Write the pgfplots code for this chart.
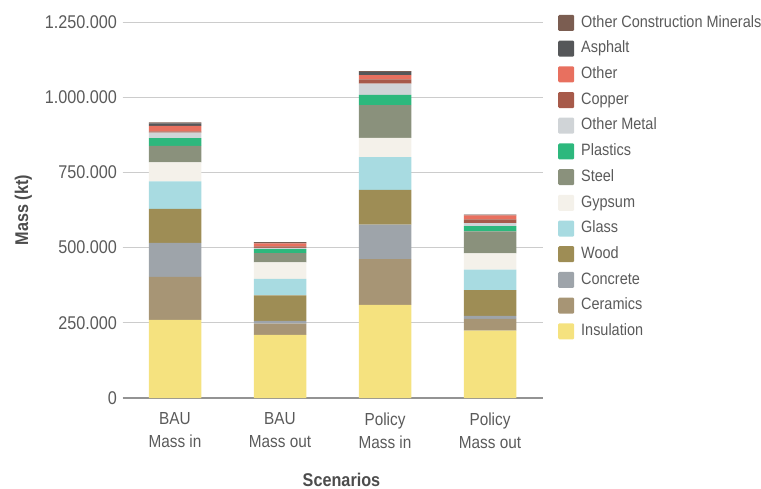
\documentclass[border=0pt]{standalone}
\usepackage{fontspec}
\setmainfont{Liberation Sans}[FakeStretch=0.88]
\usepackage{pgfplots}
\usepackage{pgfplotstable}
\pgfplotsset{compat=1.18}
\definecolor{cIns}{HTML}{F5E27F}
\definecolor{cCer}{HTML}{A79575}
\definecolor{cCon}{HTML}{9EA4AA}
\definecolor{cWood}{HTML}{9E8D55}
\definecolor{cGla}{HTML}{A8DBE1}
\definecolor{cGyp}{HTML}{F4F1EA}
\definecolor{cSte}{HTML}{8A917C}
\definecolor{cPla}{HTML}{2DB87D}
\definecolor{cOM}{HTML}{D0D4D7}
\definecolor{cCop}{HTML}{A75A4A}
\definecolor{cOth}{HTML}{E8705F}
\definecolor{cAsp}{HTML}{555759}
\definecolor{cOCM}{HTML}{7B5D51}
\definecolor{txt}{HTML}{5A5A5A}
\definecolor{gridc}{HTML}{CCCCCC}
\pgfplotstableread{
x Ins Cer Con Wood Gla Gyp Ste Pla OM Cop Oth Asp OCM
0 260000 143000 113000 113000 91000 63000 55000 26000 18000 4000 19000 8000 3000
1 210000 37000 9000 85000 55000 55000 31000 13000 4000 5000 10000 2000 2000
2 310000 152000 114000 116000 109000 64000 109000 34000 37000 14000 14000 11000 3000
3 224000 39000 10000 86000 68000 54000 73000 17000 10000 13000 13000 2000 1000
}\data
\begin{document}
\begin{tikzpicture}
\useasboundingbox (0,0) rectangle (761bp,489bp);
\begin{axis}[
  at={(122.5bp,91bp)}, anchor=south west,
  scale only axis, width=420bp, height=376bp,
  ybar stacked, bar width=0.5,
  xmin=-0.5, xmax=3.5, ymin=0, ymax=1250000,
  xtick=data, xticklabels={{BAU\\Mass in},{BAU\\Mass out},{Policy\\Mass in},{Policy\\Mass out}},
  xticklabel style={align=center, font=\fontsize{17.5}{23}\selectfont, text=txt, yshift=-11bp},
  ytick={0,250000,500000,750000,1000000,1250000},
  scaled y ticks=false,
  yticklabel style={font=\fontsize{18.5}{20}\selectfont, text=txt, xshift=-2bp, /pgf/number format/.cd, fixed, 1000 sep={.}, assume math mode=true},
  axis x line*=bottom, axis y line*=left,
  y axis line style={draw=none},
  x axis line style={draw=gray!85, line width=2bp},
  ymajorgrids, grid style={gridc, line width=0.8bp},
  major tick length=5bp,
  ytick style={draw=gridc, line width=0.8bp},
  xtick style={draw=none},
  ylabel={\bfseries Mass (kt)}, xlabel={\bfseries Scenarios},
  label style={font=\fontsize{18.5}{20}\selectfont, text=txt!85!black},
  ylabel style={yshift=6bp},
  xlabel style={yshift=-18bp, xshift=9bp},
  clip=false,
  reverse legend,
  legend cell align=left,
  legend style={at={(555bp-122.5bp,467bp-91bp+10bp)}, anchor=north west, draw=none, fill=none,
    font=\fontsize{16.5}{18}\selectfont, text=txt, row sep=8.2bp,
    nodes={inner sep=1bp, text height=12bp, text depth=3.5bp},
    /tikz/every odd column/.append style={column sep=6bp}},
  legend image code/.code={\fill[#1, rounded corners=1.2bp] (0bp,-8bp) rectangle (16bp,8bp);},
  every axis plot/.append style={draw=none},
]
\addplot[fill=cIns] table[x=x,y=Ins]{\data}; \addlegendentry{Insulation}
\addplot[fill=cCer] table[x=x,y=Cer]{\data}; \addlegendentry{Ceramics}
\addplot[fill=cCon] table[x=x,y=Con]{\data}; \addlegendentry{Concrete}
\addplot[fill=cWood] table[x=x,y=Wood]{\data}; \addlegendentry{Wood}
\addplot[fill=cGla] table[x=x,y=Gla]{\data}; \addlegendentry{Glass}
\addplot[fill=cGyp] table[x=x,y=Gyp]{\data}; \addlegendentry{Gypsum}
\addplot[fill=cSte] table[x=x,y=Ste]{\data}; \addlegendentry{Steel}
\addplot[fill=cPla] table[x=x,y=Pla]{\data}; \addlegendentry{Plastics}
\addplot[fill=cOM] table[x=x,y=OM]{\data}; \addlegendentry{Other Metal}
\addplot[fill=cCop] table[x=x,y=Cop]{\data}; \addlegendentry{Copper}
\addplot[fill=cOth] table[x=x,y=Oth]{\data}; \addlegendentry{Other}
\addplot[fill=cAsp] table[x=x,y=Asp]{\data}; \addlegendentry{Asphalt}
\addplot[fill=cOCM] table[x=x,y=OCM]{\data}; \addlegendentry{Other Construction Minerals}
\end{axis}
\end{tikzpicture}
\end{document}
